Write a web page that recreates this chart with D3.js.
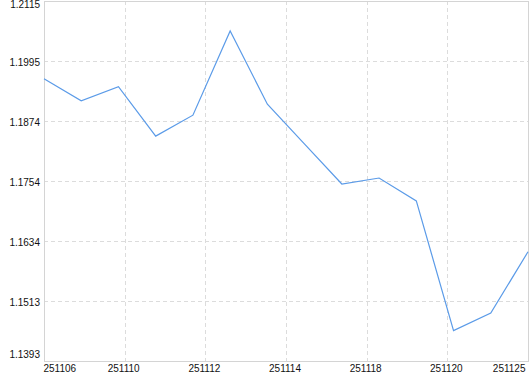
<!DOCTYPE html>
<html>
<head>
<meta charset="utf-8">
<script src="https://cdn.jsdelivr.net/npm/d3@7"></script>
<style>
  body { margin: 0; background: #fff; }
  svg { display: block; font-family: "Liberation Sans", Arial, sans-serif; font-size: 11px; }
  .grid line { stroke: #dcdcdc; stroke-dasharray: 4,3; }
  .axis path, .axis line { display: none; }
  .axis text { fill: #111; }
</style>
</head>
<body>
<script>
(function() {
  // daily closes, 2025-11-06 .. 2025-11-25
  var dates = ['251106', '251107', '251110', '251111', '251112', '251113', '251114',
    '251117', '251118', '251119', '251120', '251121', '251124', '251125'];
  var values = [1.1959, 1.1915, 1.1943, 1.1844, 1.1886, 1.2055, 1.1908,
    1.1828, 1.1748, 1.1760, 1.1714, 1.1454, 1.1489, 1.1612];
  var yMin = 1.1393, yMax = 1.2115;

  var width = 530, height = 374;
  var plotLeft = 44, plotRight = 528, plotTop = 1, plotBottom = 361;

  var svg = d3.select('body').append('svg').attr('width', width).attr('height', height);

  var x = d3.scaleLinear().domain([0, dates.length - 1]).range([plotLeft, plotRight]);
  var y = d3.scaleLinear().domain([yMin, yMax]).range([plotBottom, plotTop]);

  var yTicks = d3.range(7).map(function(i) { return yMin + i * (yMax - yMin) / 6; });
  var xTicks = d3.range(7).map(function(i) { return i * (dates.length - 1) / 6; });

  // grid
  var grid = svg.append('g').attr('class', 'grid');
  grid.selectAll('line.h').data(yTicks.slice(1, -1)).enter().append('line')
    .attr('class', 'h')
    .attr('x1', plotLeft).attr('x2', plotRight)
    .attr('y1', function(d) { return Math.round(y(d)) + 0.5; })
    .attr('y2', function(d) { return Math.round(y(d)) + 0.5; });
  grid.selectAll('line.v').data(xTicks.slice(1, -1)).enter().append('line')
    .attr('class', 'v')
    .attr('y1', plotTop).attr('y2', plotBottom)
    .attr('x1', function(d) { return Math.round(x(d)) + 0.5; })
    .attr('x2', function(d) { return Math.round(x(d)) + 0.5; });

  // frame
  svg.append('rect')
    .attr('x', plotLeft + 0.5).attr('y', plotTop + 0.5)
    .attr('width', plotRight - plotLeft).attr('height', plotBottom - plotTop)
    .attr('fill', 'none').attr('stroke', '#d4d4d4');

  // y axis labels
  var yAxis = svg.append('g').attr('class', 'axis')
    .attr('transform', 'translate(' + plotLeft + ',0)')
    .call(d3.axisLeft(y).tickValues(yTicks).tickSize(0).tickPadding(4)
      .tickFormat(function(d) { return d.toFixed(4); }));
  yAxis.selectAll('text').attr('dy', function(d, i) {
    if (i === 0) return '-0.35em';
    if (i === yTicks.length - 1) return '0.62em';
    return '0.45em';
  });

  // x axis labels
  var xAxis = svg.append('g').attr('class', 'axis')
    .attr('transform', 'translate(0,' + plotBottom + ')')
    .call(d3.axisBottom(x).tickValues(xTicks).tickSize(0).tickPadding(4)
      .tickFormat(function(d) { return dates[Math.floor(d + 1e-9)]; }));
  xAxis.selectAll('text')
    .attr('dy', '0.68em')
    .attr('text-anchor', function(d, i) {
      if (i === 0) return 'start';
      if (i === xTicks.length - 1) return 'end';
      return 'middle';
    })
    .attr('x', function(d, i) {
      if (i === 0) return -1;
      if (i === xTicks.length - 1) return -3;
      return -1.5;
    });

  // line
  var line = d3.line()
    .x(function(d, i) { return x(i); })
    .y(function(d) { return y(d); });

  svg.append('path')
    .datum(values)
    .attr('d', line)
    .attr('fill', 'none')
    .attr('stroke', '#5b9be8')
    .attr('stroke-width', 1.2);
})();
</script>
</body>
</html>
